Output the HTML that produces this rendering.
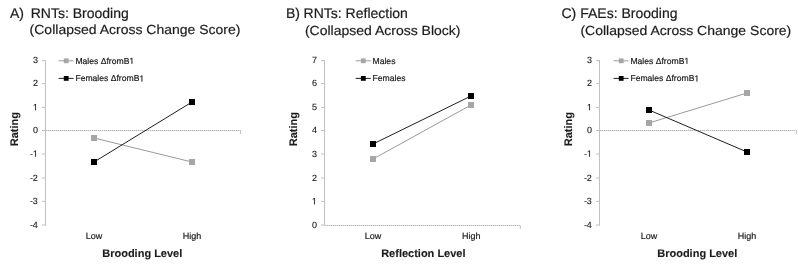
<!DOCTYPE html>
<html><head><meta charset="utf-8"><style>
html,body{margin:0;padding:0;background:#fff;}
svg{display:block;filter:grayscale(1);}
text{font-family:"Liberation Sans", sans-serif;fill:#1c1c1c;text-rendering:geometricPrecision;}
.s{stroke:#1c1c1c;stroke-width:0.2px;}
.t{stroke:#1c1c1c;stroke-width:0.2px;}
.s2{stroke:#1c1c1c;stroke-width:0.12px;}
.one{fill:none;stroke:none;}
.b{stroke:#1c1c1c;stroke-width:0.12px;}
path.s,path.s2{fill:#1c1c1c;vector-effect:non-scaling-stroke;}
</style></head><body>
<svg width="798" height="267" viewBox="0 0 798 267">
<rect width="798" height="267" fill="#fff"/>
<text x="10" y="17.6" font-size="14" class="t">A)</text>
<text x="30.7" y="17.6" font-size="14" class="t">RNTs: Brooding</text>
<text transform="translate(29.6,34.1) scale(1,0.94)" x="0" y="0" font-size="14" class="t">(Collapsed Across Change Score)</text>
<line x1="45.5" y1="60" x2="45.5" y2="225.5" stroke="#c0c0c0" stroke-width="1"/>
<line x1="42.0" y1="225" x2="45.5" y2="225" stroke="#c0c0c0" stroke-width="1"/>
<text x="37.9" y="227.8" font-size="9" class="s2" text-anchor="end">-4</text>
<line x1="42.0" y1="201.4" x2="45.5" y2="201.4" stroke="#c0c0c0" stroke-width="1"/>
<text x="37.9" y="204.2" font-size="9" class="s2" text-anchor="end">-3</text>
<line x1="42.0" y1="178" x2="45.5" y2="178" stroke="#c0c0c0" stroke-width="1"/>
<text x="37.9" y="180.8" font-size="9" class="s2" text-anchor="end">-2</text>
<line x1="42.0" y1="154" x2="45.5" y2="154" stroke="#c0c0c0" stroke-width="1"/>
<text x="37.9" y="156.8" font-size="9" class="s2" text-anchor="end">-<tspan class="one">1</tspan></text>
<line x1="42.0" y1="130.5" x2="45.5" y2="130.5" stroke="#c0c0c0" stroke-width="1"/>
<text x="37.9" y="133.3" font-size="9" class="s2" text-anchor="end">0</text>
<line x1="42.0" y1="107.4" x2="45.5" y2="107.4" stroke="#c0c0c0" stroke-width="1"/>
<text x="37.9" y="110.2" font-size="9" class="s2" text-anchor="end"><tspan class="one">1</tspan></text>
<line x1="42.0" y1="83.6" x2="45.5" y2="83.6" stroke="#c0c0c0" stroke-width="1"/>
<text x="37.9" y="86.4" font-size="9" class="s2" text-anchor="end">2</text>
<line x1="42.0" y1="60.6" x2="45.5" y2="60.6" stroke="#c0c0c0" stroke-width="1"/>
<text x="37.9" y="63.4" font-size="9" class="s2" text-anchor="end">3</text>
<line x1="46" y1="130.5" x2="240.5" y2="130.5" stroke="#dedede" stroke-width="1"/>
<line x1="46" y1="130.5" x2="240.5" y2="130.5" stroke="#b4b4b4" stroke-width="1" stroke-dasharray="1 1"/>
<line x1="240.5" y1="130.5" x2="240.5" y2="134" stroke="#c0c0c0" stroke-width="1"/>
<text x="94" y="238.7" font-size="9" class="s" text-anchor="middle">Low</text>
<text x="192" y="238.7" font-size="9" class="s" text-anchor="middle">High</text>
<text x="142.25" y="256.6" font-size="11" font-weight="bold" class="b" text-anchor="middle">Brooding Level</text>
<text transform="translate(18,129.2) rotate(-90)" x="0" y="0" font-size="11" font-weight="bold" class="b" text-anchor="middle">Rating</text>
<line x1="94" y1="138" x2="192" y2="162" stroke="#9a9a9a" stroke-width="1"/>
<rect x="91" y="135" width="6" height="6" fill="#a6a6a6"/>
<rect x="189" y="159" width="6" height="6" fill="#a6a6a6"/>
<line x1="94" y1="162" x2="192" y2="102" stroke="#1e1e1e" stroke-width="1.0"/>
<rect x="91" y="159" width="6" height="6" fill="#000"/>
<rect x="189" y="99" width="6" height="6" fill="#000"/>
<line x1="58.6" y1="60.8" x2="73.6" y2="60.8" stroke="#9a9a9a" stroke-width="1"/>
<rect x="63.8" y="58.4" width="4.8" height="4.8" fill="#a6a6a6"/>
<text x="75.4" y="63.8" font-size="8.6" class="s">Males ΔfromB<tspan class="one">1</tspan></text>
<line x1="58.6" y1="78.4" x2="73.6" y2="78.4" stroke="#1e1e1e" stroke-width="1"/>
<rect x="63.8" y="76" width="4.8" height="4.8" fill="#000"/>
<text x="75.4" y="81.4" font-size="8.6" class="s">Females ΔfromB<tspan class="one">1</tspan></text>
<text x="285.9" y="17.6" font-size="14" class="t">B)</text>
<text x="303.6" y="17.6" font-size="14" class="t">RNTs: Reflection</text>
<text transform="translate(304.9,35) scale(1,0.94)" x="0" y="0" font-size="14" class="t">(Collapsed Across Block)</text>
<line x1="324.5" y1="60" x2="324.5" y2="225.5" stroke="#c0c0c0" stroke-width="1"/>
<line x1="321.0" y1="225" x2="324.5" y2="225" stroke="#c0c0c0" stroke-width="1"/>
<text x="316.9" y="227.8" font-size="9" class="s2" text-anchor="end">0</text>
<line x1="321.0" y1="201.4" x2="324.5" y2="201.4" stroke="#c0c0c0" stroke-width="1"/>
<text x="316.9" y="204.2" font-size="9" class="s2" text-anchor="end"><tspan class="one">1</tspan></text>
<line x1="321.0" y1="178" x2="324.5" y2="178" stroke="#c0c0c0" stroke-width="1"/>
<text x="316.9" y="180.8" font-size="9" class="s2" text-anchor="end">2</text>
<line x1="321.0" y1="154" x2="324.5" y2="154" stroke="#c0c0c0" stroke-width="1"/>
<text x="316.9" y="156.8" font-size="9" class="s2" text-anchor="end">3</text>
<line x1="321.0" y1="130.5" x2="324.5" y2="130.5" stroke="#c0c0c0" stroke-width="1"/>
<text x="316.9" y="133.3" font-size="9" class="s2" text-anchor="end">4</text>
<line x1="321.0" y1="107.4" x2="324.5" y2="107.4" stroke="#c0c0c0" stroke-width="1"/>
<text x="316.9" y="110.2" font-size="9" class="s2" text-anchor="end">5</text>
<line x1="321.0" y1="83.6" x2="324.5" y2="83.6" stroke="#c0c0c0" stroke-width="1"/>
<text x="316.9" y="86.4" font-size="9" class="s2" text-anchor="end">6</text>
<line x1="321.0" y1="60.6" x2="324.5" y2="60.6" stroke="#c0c0c0" stroke-width="1"/>
<text x="316.9" y="63.4" font-size="9" class="s2" text-anchor="end">7</text>
<line x1="325" y1="225.5" x2="520.3" y2="225.5" stroke="#dedede" stroke-width="1"/>
<line x1="325" y1="225.5" x2="520.3" y2="225.5" stroke="#b4b4b4" stroke-width="1" stroke-dasharray="1 1"/>
<line x1="520.3" y1="225.5" x2="520.3" y2="229" stroke="#c0c0c0" stroke-width="1"/>
<text x="373" y="238.7" font-size="9" class="s" text-anchor="middle">Low</text>
<text x="471.3" y="238.7" font-size="9" class="s" text-anchor="middle">High</text>
<text x="423.35" y="256.6" font-size="11" font-weight="bold" class="b" text-anchor="middle">Reflection Level</text>
<text transform="translate(297,129.2) rotate(-90)" x="0" y="0" font-size="11" font-weight="bold" class="b" text-anchor="middle">Rating</text>
<line x1="373" y1="159" x2="471" y2="105" stroke="#9a9a9a" stroke-width="1"/>
<rect x="370" y="156" width="6" height="6" fill="#a6a6a6"/>
<rect x="468" y="102" width="6" height="6" fill="#a6a6a6"/>
<line x1="373" y1="144" x2="471" y2="96" stroke="#1e1e1e" stroke-width="1.0"/>
<rect x="370" y="141" width="6" height="6" fill="#000"/>
<rect x="468" y="93" width="6" height="6" fill="#000"/>
<line x1="355.7" y1="60.8" x2="370.7" y2="60.8" stroke="#9a9a9a" stroke-width="1"/>
<rect x="360.9" y="58.4" width="4.8" height="4.8" fill="#a6a6a6"/>
<text x="372.5" y="63.8" font-size="8.6" class="s">Males</text>
<line x1="355.7" y1="78.4" x2="370.7" y2="78.4" stroke="#1e1e1e" stroke-width="1"/>
<rect x="360.9" y="76" width="4.8" height="4.8" fill="#000"/>
<text x="372.5" y="81.4" font-size="8.6" class="s">Females</text>
<text x="561.4" y="17.6" font-size="14" class="t">C)</text>
<text x="580.2" y="17.6" font-size="14" class="t">FAEs: Brooding</text>
<text transform="translate(580.4,35) scale(1,0.94)" x="0" y="0" font-size="14" class="t">(Collapsed Across Change Score)</text>
<line x1="599.5" y1="60" x2="599.5" y2="225.5" stroke="#c0c0c0" stroke-width="1"/>
<line x1="596.0" y1="225" x2="599.5" y2="225" stroke="#c0c0c0" stroke-width="1"/>
<text x="591.9" y="227.8" font-size="9" class="s2" text-anchor="end">-4</text>
<line x1="596.0" y1="201.4" x2="599.5" y2="201.4" stroke="#c0c0c0" stroke-width="1"/>
<text x="591.9" y="204.2" font-size="9" class="s2" text-anchor="end">-3</text>
<line x1="596.0" y1="178" x2="599.5" y2="178" stroke="#c0c0c0" stroke-width="1"/>
<text x="591.9" y="180.8" font-size="9" class="s2" text-anchor="end">-2</text>
<line x1="596.0" y1="154" x2="599.5" y2="154" stroke="#c0c0c0" stroke-width="1"/>
<text x="591.9" y="156.8" font-size="9" class="s2" text-anchor="end">-<tspan class="one">1</tspan></text>
<line x1="596.0" y1="130.5" x2="599.5" y2="130.5" stroke="#c0c0c0" stroke-width="1"/>
<text x="591.9" y="133.3" font-size="9" class="s2" text-anchor="end">0</text>
<line x1="596.0" y1="107.4" x2="599.5" y2="107.4" stroke="#c0c0c0" stroke-width="1"/>
<text x="591.9" y="110.2" font-size="9" class="s2" text-anchor="end"><tspan class="one">1</tspan></text>
<line x1="596.0" y1="83.6" x2="599.5" y2="83.6" stroke="#c0c0c0" stroke-width="1"/>
<text x="591.9" y="86.4" font-size="9" class="s2" text-anchor="end">2</text>
<line x1="596.0" y1="60.6" x2="599.5" y2="60.6" stroke="#c0c0c0" stroke-width="1"/>
<text x="591.9" y="63.4" font-size="9" class="s2" text-anchor="end">3</text>
<line x1="600" y1="130.5" x2="796.5" y2="130.5" stroke="#dedede" stroke-width="1"/>
<line x1="600" y1="130.5" x2="796.5" y2="130.5" stroke="#b4b4b4" stroke-width="1" stroke-dasharray="1 1"/>
<line x1="796.5" y1="130.5" x2="796.5" y2="134" stroke="#c0c0c0" stroke-width="1"/>
<text x="649" y="238.7" font-size="9" class="s" text-anchor="middle">Low</text>
<text x="747" y="238.7" font-size="9" class="s" text-anchor="middle">High</text>
<text x="697.25" y="256.6" font-size="11" font-weight="bold" class="b" text-anchor="middle">Brooding Level</text>
<text transform="translate(572,129.2) rotate(-90)" x="0" y="0" font-size="11" font-weight="bold" class="b" text-anchor="middle">Rating</text>
<line x1="649" y1="123" x2="747" y2="93" stroke="#9a9a9a" stroke-width="1"/>
<rect x="646" y="120" width="6" height="6" fill="#a6a6a6"/>
<rect x="744" y="90" width="6" height="6" fill="#a6a6a6"/>
<line x1="649" y1="110" x2="747" y2="152" stroke="#1e1e1e" stroke-width="1.0"/>
<rect x="646" y="107" width="6" height="6" fill="#000"/>
<rect x="744" y="149" width="6" height="6" fill="#000"/>
<line x1="613.6" y1="60.8" x2="628.6" y2="60.8" stroke="#9a9a9a" stroke-width="1"/>
<rect x="618.8" y="58.4" width="4.8" height="4.8" fill="#a6a6a6"/>
<text x="630.4" y="63.8" font-size="8.6" class="s">Males ΔfromB<tspan class="one">1</tspan></text>
<line x1="613.6" y1="78.4" x2="628.6" y2="78.4" stroke="#1e1e1e" stroke-width="1"/>
<rect x="618.8" y="76" width="4.8" height="4.8" fill="#000"/>
<text x="630.4" y="81.4" font-size="8.6" class="s">Females ΔfromB<tspan class="one">1</tspan></text>
<path class="s2" transform="translate(32.88,156.80) scale(0.004395,-0.004395)" d="M515,0L515,1237L197,1010L197,1180L530,1409L696,1409L696,0Z"/>
<path class="s2" transform="translate(32.88,110.20) scale(0.004395,-0.004395)" d="M515,0L515,1237L197,1010L197,1180L530,1409L696,1409L696,0Z"/>
<path class="s" transform="translate(129.38,63.80) scale(0.004199,-0.004199)" d="M515,0L515,1237L197,1010L197,1180L530,1409L696,1409L696,0Z"/>
<path class="s" transform="translate(139.40,81.40) scale(0.004199,-0.004199)" d="M515,0L515,1237L197,1010L197,1180L530,1409L696,1409L696,0Z"/>
<path class="s2" transform="translate(311.88,204.20) scale(0.004395,-0.004395)" d="M515,0L515,1237L197,1010L197,1180L530,1409L696,1409L696,0Z"/>
<path class="s2" transform="translate(586.88,156.80) scale(0.004395,-0.004395)" d="M515,0L515,1237L197,1010L197,1180L530,1409L696,1409L696,0Z"/>
<path class="s2" transform="translate(586.88,110.20) scale(0.004395,-0.004395)" d="M515,0L515,1237L197,1010L197,1180L530,1409L696,1409L696,0Z"/>
<path class="s" transform="translate(684.38,63.80) scale(0.004199,-0.004199)" d="M515,0L515,1237L197,1010L197,1180L530,1409L696,1409L696,0Z"/>
<path class="s" transform="translate(694.40,81.40) scale(0.004199,-0.004199)" d="M515,0L515,1237L197,1010L197,1180L530,1409L696,1409L696,0Z"/>
</svg>
</body></html>
